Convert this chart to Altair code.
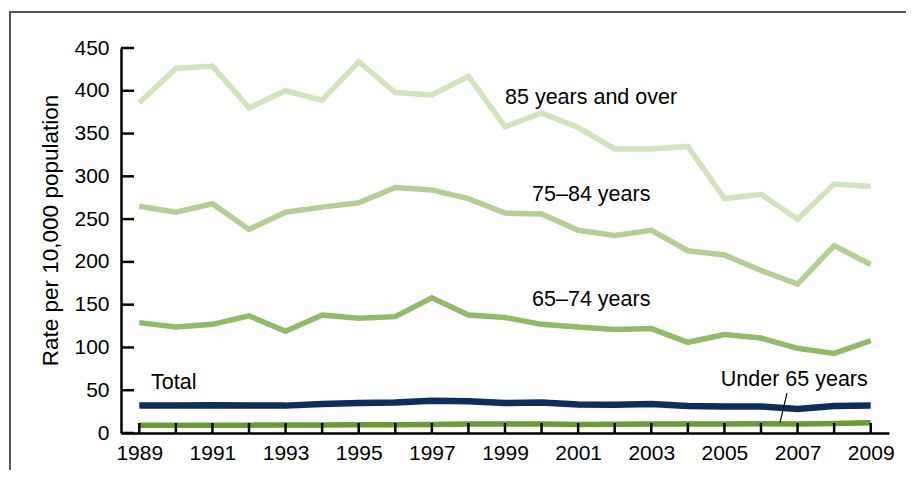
import altair as alt
import pandas as pd

years = list(range(1989, 2010))
odd_years = list(range(1989, 2010, 2))
y_ticks = list(range(0, 451, 50))

series_names = ["85 years and over", "75–84 years", "65–74 years", "Total", "Under 65 years"]
age85 = [386, 426, 429, 380, 400, 389, 434, 398, 395, 417, 358, 374, 357, 332, 332, 335, 274, 279, 250, 291, 288]
age75 = [265, 258, 268, 238, 258, 264, 269, 287, 284, 274, 257, 256, 237, 231, 237, 213, 208, 190, 174, 219, 197]
age65 = [129, 124, 127, 137, 119, 138, 134, 136, 158, 138, 135, 127, 124, 121, 122, 106, 115, 111, 99, 93, 108]
total = [32, 32, 32.5, 32, 32, 34, 35, 35.7, 37.7, 37, 35, 35.7, 33.4, 33, 33.8, 31.5, 31, 31, 28, 31.5, 32]
under65 = [9, 9.2, 9, 9.2, 9.3, 9.3, 9.5, 9.6, 10, 10.5, 10.4, 10.5, 10, 10.3, 10.6, 10.4, 10.5, 10.7, 10.5, 11, 12]
series_values = [age85, age75, age65, total, under65]
colors = ["#d3e2bf", "#b5ce95", "#93b96a", "#0d2d5b", "#6b9b35"]
widths = [5.5, 5.5, 5.5, 6.5, 5.5]

# annotation labels (text, anchor year, anchor value)
label_texts = ["85 years and over", "75–84 years", "65–74 years", "Total", "Under 65 years"]
label_years = [1999.0, 1999.74, 1999.74, 1989.32, 2004.9]
label_vals = [392, 278, 155, 58, 62]
leader_years = [2006.71, 2006.52]
leader_vals = [46.5, 12]

rows = []
for k, (name, vals) in enumerate(zip(series_names, series_values)):
    for yr, v in zip(years, vals):
        rows.append({"series": name, "year": yr, "value": v, "w": widths[k]})
df = pd.DataFrame(rows)

FONT = "Liberation Sans"

xscale = alt.Scale(domain=[1988.5, 2009.5], nice=False, zero=False)
yscale = alt.Scale(domain=[0, 450], nice=False)

lines = alt.Chart(df).mark_line(strokeCap="butt").encode(
    x=alt.X("year:Q", scale=xscale,
            axis=alt.Axis(values=odd_years, format="d", ticks=False, tickSize=0,
                          labelPadding=9, labelFontSize=21, labelFont=FONT,
                          labelColor="black", domainColor="black", domainWidth=2.5,
                          grid=False, title=None, labelFlush=False, labelOverlap=False)),
    y=alt.Y("value:Q", scale=yscale,
            axis=alt.Axis(values=y_ticks, ticks=False, tickSize=0, labelPadding=12,
                          labelFontSize=21, labelFont=FONT, labelColor="black",
                          domainColor="black", domainWidth=2.5, grid=False,
                          title="Rate per 10,000 population", titleFont=FONT,
                          titleFontSize=22.5, titleFontWeight="normal", titleColor="black",
                          titleAngle=270, titleX=-71, titleY=182,
                          titleAlign="center", titleBaseline="middle")),
    color=alt.Color("series:N", scale=alt.Scale(domain=series_names, range=colors), legend=None),
    strokeWidth=alt.StrokeWidth("w:Q", scale=None, legend=None),
    detail="series:N",
)

xt = pd.DataFrame({"year": years})
xtick_layer = alt.Chart(xt).mark_rule(color="black", strokeWidth=2.5).encode(
    x=alt.X("year:Q", scale=xscale), y=alt.value(385), y2=alt.value(375)
)
yt = pd.DataFrame({"value": y_ticks})
ytick_layer = alt.Chart(yt).mark_rule(color="black", strokeWidth=2.5).encode(
    y=alt.Y("value:Q", scale=yscale), x=alt.value(0), x2=alt.value(13)
)

lab = pd.DataFrame({"text": label_texts, "year": label_years, "value": label_vals})
labels = alt.Chart(lab).mark_text(align="left", baseline="middle", fontSize=21.5, font=FONT, color="black").encode(
    x=alt.X("year:Q", scale=xscale), y=alt.Y("value:Q", scale=yscale), text="text:N"
)

ld = pd.DataFrame({"year": [leader_years[0]], "year2": [leader_years[1]],
                   "value": [leader_vals[0]], "value2": [leader_vals[1]]})
leader = alt.Chart(ld).mark_rule(color="black", strokeWidth=1.2).encode(
    x=alt.X("year:Q", scale=xscale), x2="year2:Q",
    y=alt.Y("value:Q", scale=yscale), y2="value2:Q"
)

frame_v = alt.Chart(pd.DataFrame({"k": [0]})).mark_rule(color="#555555", strokeWidth=2).encode(
    x=alt.value(-111), y=alt.value(-36), y2=alt.value(440)
)
frame_h = alt.Chart(pd.DataFrame({"k": [0]})).mark_rule(color="#555555", strokeWidth=2).encode(
    x=alt.value(-112), x2=alt.value(820), y=alt.value(-36)
)

chart = alt.layer(frame_v, frame_h, lines, leader, xtick_layer, ytick_layer, labels).properties(
    width=768, height=385,
    padding={"left": 113, "top": 40, "right": 17, "bottom": 37},
    autosize=alt.AutoSizeParams(type="none"),
    background="white",
).configure_view(stroke=None)

chart.save("out.html", embed_options={"renderer": "svg", "actions": False})
